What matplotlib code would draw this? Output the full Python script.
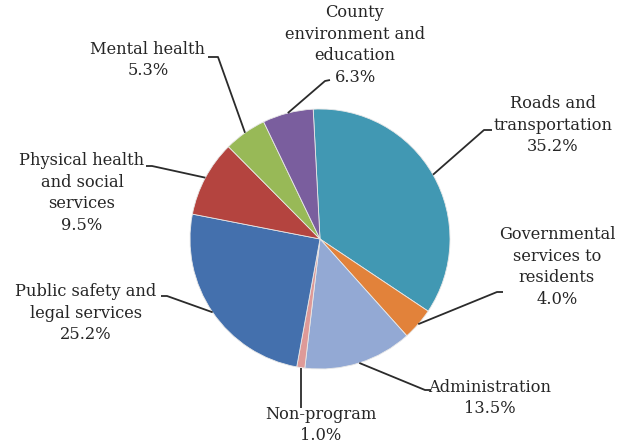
import numpy as np
import matplotlib.pyplot as plt

# budget shares (percent), clockwise from 12 o'clock
labels = ["Roads and\ntransportation", "Governmental\nservices to\nresidents",
          "Administration", "Non-program", "Public safety and\nlegal services",
          "Physical health\nand social\nservices", "Mental health",
          "County\nenvironment and\neducation"]
shares = [35.2, 4.0, 13.5, 1.0, 25.2, 9.5, 5.3, 6.3]
colors = ["#4198B3", "#E2823A", "#93A9D4", "#DE9A98", "#4470AD",
          "#B4443F", "#98B957", "#7A5E9E"]

W, H = 624, 444
def P(x, y):
    # image pixel coords -> axes coords (y up)
    return x, H - y

# text centre, elbow of leader line, end of leader stub (image pixels)
text_pos = [(553, 125), (557, 267), (490, 398), (321, 425), (86, 313),
            (82, 193), (148, 60), (355, 45)]
elbows = [(484, 130), (497, 292), (425, 390), (None, 408), (167, 296),
          (152, 166), (218, 57), (325, 81)]
stubs = [(492, 130), (503, 292), (431, 390), None, (161, 296),
         (146, 166), (208, 57), (330, 80)]

fig = plt.figure(figsize=(W / 100, H / 100), dpi=100)
ax = fig.add_axes([0, 0, 1, 1])

cx, cy = P(320, 239)
r = 130
wedges, _ = ax.pie(shares, colors=colors, startangle=93, counterclock=False,
                   center=(cx, cy), radius=r, frame=True,
                   wedgeprops=dict(edgecolor="#e8e8e8", linewidth=0.6))
ax.set_xlim(0, W)
ax.set_ylim(0, H)
ax.set_aspect("equal")
ax.axis("off")

for i, w in enumerate(wedges):
    mid = np.deg2rad((w.theta1 + w.theta2) / 2)
    ex, ey = cx + r * np.cos(mid), cy + r * np.sin(mid)
    bx, by = elbows[i]
    if bx is None:
        bx = ex
    bx, by = P(bx, by)
    xs, ys = [ex, bx], [ey, by]
    if stubs[i] is not None:
        sx, sy = P(*stubs[i])
        xs.append(sx)
        ys.append(sy)
    ax.plot(xs, ys, color="#2b2b2b", lw=1.3, solid_capstyle="butt")
    tx, ty = P(*text_pos[i])
    ax.text(tx, ty, f"{labels[i]}\n{shares[i]:.1f}%", ha="center", va="center",
            fontsize=11.7, family="DejaVu Serif", color="#262626", linespacing=1.38)

fig.savefig("out.png", dpi=100)
